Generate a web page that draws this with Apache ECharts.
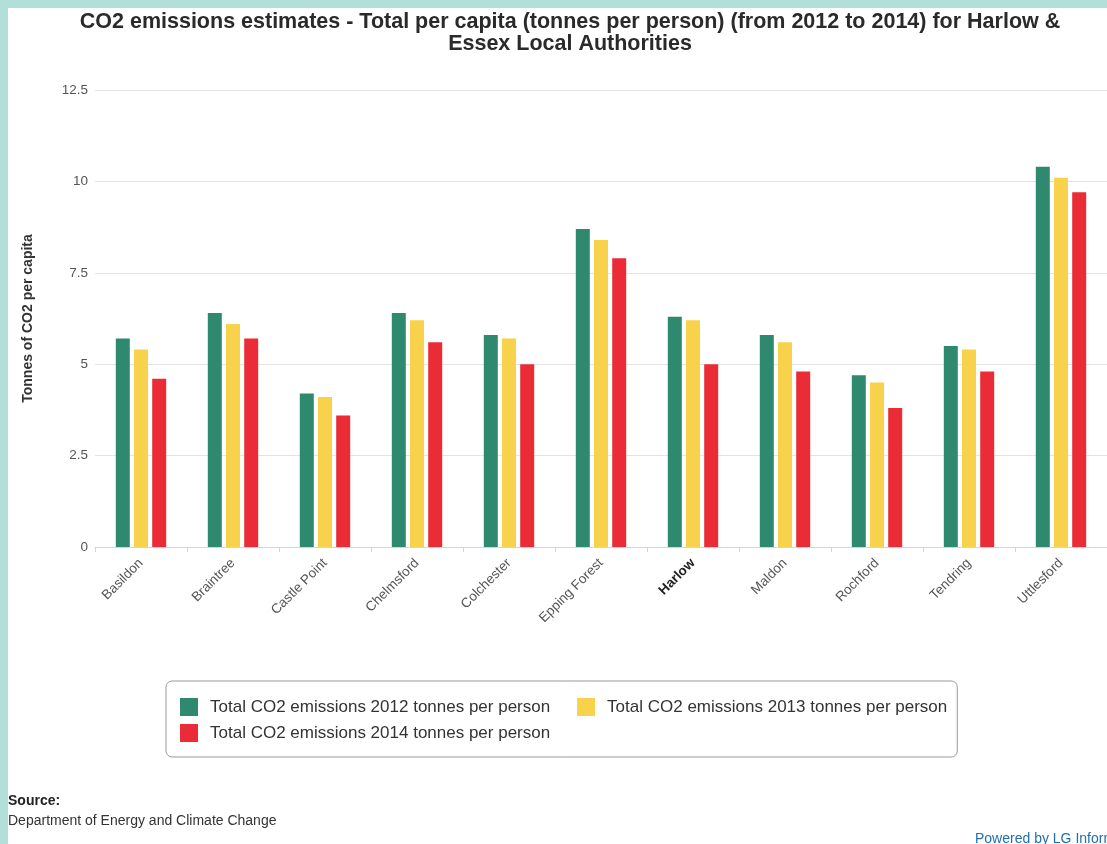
<!DOCTYPE html>
<html>
<head>
<meta charset="utf-8">
<title>CO2 emissions estimates - Harlow & Essex</title>
<script src="https://cdn.jsdelivr.net/npm/echarts@6/dist/echarts.min.js"></script>
<style>
  html, body { margin: 0; padding: 0; background: #b3dfda; width: 1107px; height: 844px; overflow: hidden; }
  #chart { position: absolute; left: 8px; top: 8px; width: 1099px; height: 836px; background: #ffffff; }
</style>
</head>
<body>
<div id="chart"></div>
<script>
// Local authorities shown along the x axis
const authorities = ['Basildon', 'Braintree', 'Castle Point', 'Chelmsford', 'Colchester',
  'Epping Forest', 'Harlow', 'Maldon', 'Rochford', 'Tendring', 'Uttlesford'];

// Per-capita CO2 (tonnes per person) by year
const co2_2012 = [5.7, 6.4, 4.2, 6.4, 5.8, 8.7, 6.3, 5.8, 4.7, 5.5, 10.4];
const co2_2013 = [5.4, 6.1, 4.1, 6.2, 5.7, 8.4, 6.2, 5.6, 4.5, 5.4, 10.1];
const co2_2014 = [4.6, 5.7, 3.6, 5.6, 5.0, 7.9, 5.0, 4.8, 3.8, 4.8, 9.7];

const seriesNames = [
  'Total CO2 emissions 2012 tonnes per person',
  'Total CO2 emissions 2013 tonnes per person',
  'Total CO2 emissions 2014 tonnes per person'
];
const seriesColors = ['#2e896e', '#f9d24b', '#ea2c36'];

const yTicks = { min: 0, max: 12.5, interval: 2.5 };
const highlighted = 'Harlow';

const FONT = '"Liberation Sans", Arial, Helvetica, sans-serif';

const chart = echarts.init(document.getElementById('chart'), null, { renderer: 'canvas' });

const values = [co2_2012, co2_2013, co2_2014];

chart.setOption({
  backgroundColor: '#ffffff',
  animation: false,
  title: {
    text: 'CO2 emissions estimates - Total per capita (tonnes per person) (from 2012 to 2014) for Harlow &\nEssex Local Authorities',
    left: 557,
    top: -2,
    textAlign: 'center',
    textStyle: { fontFamily: FONT, fontSize: 21.5, fontWeight: 'bold', color: '#2a2a2a', lineHeight: 22 }
  },
  grid: { left: 87, right: 0, top: 82, bottom: 297, containLabel: false },
  xAxis: {
    type: 'category',
    data: authorities,
    axisLine: { lineStyle: { color: '#ccd6eb', width: 1 } },
    axisTick: { show: true, alignWithLabel: false, length: 5, lineStyle: { color: '#ccd6eb' } },
    axisLabel: {
      rotate: 45,
      margin: 14,
      fontFamily: FONT,
      fontSize: 13.5,
      color: '#555555',
      formatter: function (v) { return v === highlighted ? '{b|' + v + '}' : v; },
      rich: { b: { fontFamily: FONT, fontSize: 13.5, fontWeight: 'bold', color: '#222222' } }
    }
  },
  yAxis: {
    type: 'value',
    min: yTicks.min,
    max: yTicks.max,
    interval: yTicks.interval,
    name: 'Tonnes of CO2 per capita',
    nameLocation: 'middle',
    nameGap: 60,
    nameTextStyle: { fontFamily: FONT, fontSize: 14, fontWeight: 'bold', color: '#333333' },
    axisLine: { show: false },
    axisTick: { show: false },
    axisLabel: { fontFamily: FONT, fontSize: 13.5, color: '#555555', margin: 7 },
    splitLine: { lineStyle: { color: '#e3e3e3', width: 1 } }
  },
  legend: {
    left: 158,
    top: 673,
    width: 790,
    orient: 'horizontal',
    itemWidth: 18,
    itemHeight: 18,
    itemGap: 8,
    icon: 'rect',
    padding: [17, 10, 15, 14],
    borderColor: '#999999',
    borderWidth: 1,
    borderRadius: 6,
    data: seriesNames,
    // the first entry carries trailing space so the second column starts further right
    formatter: function (name) { return name === seriesNames[0] ? name + '\u00a0\u00a0\u00a0\u00a0' : name; },
    textStyle: { fontFamily: FONT, fontSize: 17, color: '#333333', padding: [0, 0, 0, 7] }
  },
  graphic: [
    { type: 'text', left: 0, top: 786,
      style: { text: 'Source:', font: 'bold 14px ' + FONT, fill: '#222222' } },
    { type: 'text', left: 0, top: 806,
      style: { text: 'Department of Energy and Climate Change', font: '14px ' + FONT, fill: '#333333' } },
    { type: 'text', left: 967, top: 824,
      style: { text: 'Powered by LG Inform', font: '14px ' + FONT, fill: '#1f6fae' } }
  ],
  series: values.map(function (vals, i) {
    return {
      name: seriesNames[i],
      type: 'bar',
      data: vals,
      barWidth: 14,
      barGap: '30%',
      itemStyle: { color: seriesColors[i] }
    };
  })
});
</script>
</body>
</html>
